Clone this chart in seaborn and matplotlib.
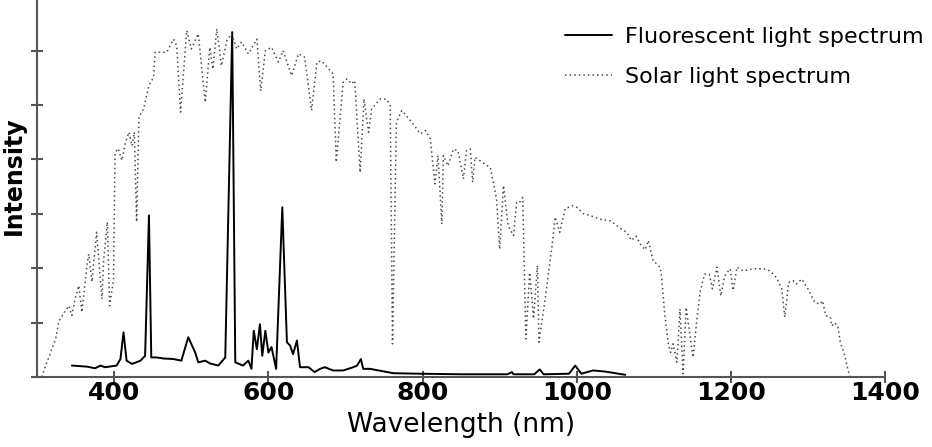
import numpy as np
import pandas as pd
import matplotlib
matplotlib.use("Agg")
import matplotlib.pyplot as plt
import seaborn as sns

# solar spectrum (dotted), arbitrary units
solar_nm = [306, 311, 319, 324, 328, 334, 341, 345, 349, 354, 358, 365, 367, 371, 377, 384, 386, 391,
            394, 399, 401, 405, 410, 414, 419, 423, 426, 429, 432, 438, 445, 451, 453, 460, 468, 477,
            481, 486, 494, 500, 509, 518, 524, 528, 533, 539, 546, 552, 559, 565, 574, 585, 590, 596,
            604, 613, 619, 630, 639, 647, 656, 663, 669, 684, 688, 697, 702, 708, 712, 719, 724, 730,
            734, 745, 753, 758, 761, 766, 773, 788, 797, 804, 810, 816, 820, 825, 827, 833, 840, 846,
            853, 857, 862, 865, 868, 877, 888, 896, 900, 905, 911, 918, 922, 926, 930, 934, 939, 944,
            949, 951, 959, 968, 972, 978, 985, 994, 1000, 1009, 1017, 1030, 1044, 1058, 1065, 1071,
            1077, 1084, 1089, 1093, 1099, 1108, 1110, 1114, 1119, 1122, 1125, 1130, 1134, 1138, 1142,
            1147, 1151, 1156, 1160, 1166, 1172, 1176, 1182, 1187, 1192, 1199, 1203, 1208, 1216, 1229,
            1242, 1251, 1259, 1266, 1270, 1275, 1281, 1285, 1292, 1300, 1309, 1316, 1319, 1323, 1329,
            1331, 1335, 1339, 1342, 1348, 1352, 1355]
solar_int = [0.0, 0.21, 0.51, 0.70, 1.03, 1.16, 1.31, 1.13, 1.43, 1.68, 1.19, 2.11, 2.26, 1.75, 2.66, 1.43, 2.11, 2.85,
             1.31, 1.80, 4.13, 4.20, 3.98, 4.28, 4.50, 4.25, 4.50, 2.85, 4.78, 4.93, 5.36, 5.51, 5.97, 5.97, 5.97, 6.21,
             6.09, 4.87, 6.37, 6.03, 6.31, 5.05, 6.06, 5.66, 6.40, 5.72, 6.18, 6.31, 6.03, 6.16, 5.94, 6.21, 5.26, 6.00,
             6.06, 5.79, 6.00, 5.54, 5.94, 5.88, 4.90, 5.79, 5.81, 5.57, 3.95, 5.42, 5.48, 5.39, 5.45, 3.76, 5.11, 4.50,
             4.93, 5.11, 5.11, 4.99, 0.61, 4.68, 4.90, 4.65, 4.47, 4.53, 4.38, 3.55, 4.07, 2.81, 4.07, 3.88, 4.19, 4.16,
             3.64, 4.16, 4.19, 3.58, 4.04, 3.95, 3.85, 3.27, 2.35, 3.52, 2.78, 2.60, 3.21, 3.21, 3.30, 0.70, 1.92, 1.07,
             2.05, 0.64, 1.43, 2.41, 2.94, 2.66, 3.09, 3.15, 3.12, 3.00, 2.97, 2.90, 2.87, 2.72, 2.66, 2.51,
             2.59, 2.41, 2.34, 2.51, 2.14, 2.02, 1.86, 1.19, 0.58, 0.45, 0.61, 0.27, 1.25, 0.06, 1.28,
             0.76, 0.36, 1.07, 1.56, 1.89, 1.89, 1.62, 2.02, 1.49, 1.86, 1.99, 1.59, 2.02, 1.95, 1.99,
             1.99, 1.95, 1.83, 1.62, 1.10, 1.74, 1.77, 1.71, 1.80, 1.62, 1.37, 1.34, 1.40, 1.13, 1.10,
             0.94, 1.00, 0.91, 0.64, 0.39, 0.12, 0.02]

# fluorescent lamp spectrum (solid)
fluor_nm = [345, 365, 375, 382, 388, 403, 408, 412, 416, 423, 434, 440, 445, 448, 455, 464, 477, 487,
            496, 505, 509, 518, 524, 535, 544, 553, 557, 567, 574, 578, 581, 585, 589, 592, 596, 600,
            604, 610, 618, 624, 628, 632, 637, 641, 652, 660, 667, 673, 684, 697, 710, 715, 720, 723,
            732, 743, 762, 797, 850, 910, 916, 918, 945, 952, 957, 990, 998, 1006, 1021, 1037, 1063]
fluor_int = [0.21, 0.19, 0.16, 0.21, 0.18, 0.21, 0.33, 0.82, 0.30, 0.24, 0.30, 0.39, 2.97, 0.36, 0.36, 0.34, 0.33, 0.30,
             0.73, 0.45, 0.27, 0.30, 0.25, 0.21, 0.36, 6.34, 0.27, 0.21, 0.30, 0.15, 0.85, 0.51, 0.97, 0.39, 0.85, 0.45,
             0.55, 0.15, 3.12, 0.64, 0.58, 0.42, 0.67, 0.18, 0.18, 0.09, 0.15, 0.18, 0.12, 0.12, 0.18, 0.21, 0.33, 0.15,
             0.15, 0.12, 0.07, 0.06, 0.05, 0.05, 0.09, 0.05, 0.05, 0.14, 0.05, 0.06, 0.21, 0.06, 0.12, 0.10, 0.04]

xticks = [400, 600, 800, 1000, 1200, 1400]

sns.set_theme(style="white")
plt.rcParams['font.family'] = ['DejaVu Sans']
plt.rcParams['text.color'] = 'black'
plt.rcParams['axes.labelcolor'] = 'black'
plt.rcParams['xtick.color'] = 'black'

fig = plt.figure(figsize=(9.32, 4.47), dpi=100)
ax = fig.add_axes([37.2 / 932, 70 / 447, (885 - 37.2) / 932, 377 / 447])

sns.lineplot(x=fluor_nm, y=fluor_int, ax=ax, sort=False, estimator=None,
             color='black', lw=1.4, label='Fluorescent light spectrum')
sns.lineplot(x=solar_nm, y=solar_int, ax=ax, sort=False, estimator=None,
             color='#4a4a4a', lw=1.1, linestyle=(0, (1, 2)), label='Solar light spectrum')

ax.set_xlim(300, 1400)
ax.set_ylim(0, 377 / 54.4)
ax.set_xticks(xticks)
ax.set_xticklabels([str(t) for t in xticks], fontsize=18, fontweight='bold', color='black')
ax.set_yticks(range(0, 7))
ax.set_yticklabels([])
ax.tick_params(axis='both', direction='inout', length=8, width=1.5, color='#555555', bottom=True, left=True)
ax.tick_params(axis='x', pad=-1)

for side in ['top', 'right']:
    ax.spines[side].set_visible(False)
for side in ['left', 'bottom']:
    ax.spines[side].set_color('#555555')
    ax.spines[side].set_linewidth(1.5)

ax.set_xlabel('Wavelength (nm)', fontsize=19, labelpad=5, color='black')
ax.set_ylabel('')
fig.text(14 / 932, 1 - 176 / 447, 'Intensity', rotation=90, fontsize=17, fontweight='bold',
         ha='center', va='center', color='black')

leg = ax.legend(loc='upper left', bbox_to_anchor=(565 / 932, 1 - 27 / 447), bbox_transform=fig.transFigure,
                frameon=False, fontsize=16, handlelength=2.1, handletextpad=0.6, labelspacing=0.9,
                borderpad=0, borderaxespad=0)
for t in leg.get_texts():
    t.set_color('black')

fig.savefig('out.png', dpi=100)
